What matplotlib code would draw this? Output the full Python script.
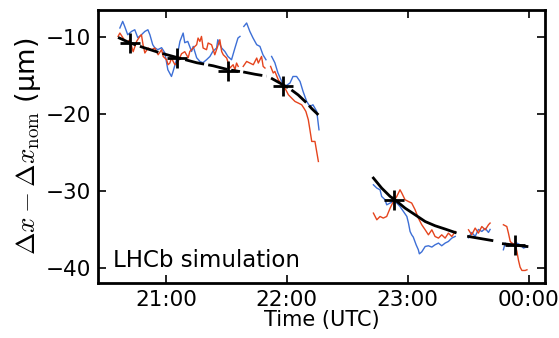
import numpy as np
import matplotlib
matplotlib.use("Agg")
import matplotlib.pyplot as plt

nan = np.nan

# time in minutes after 20:00 UTC, values in micrometres
blue_t = [37.2, 38.6, 39.6, 41.1, 43.0, 44.6, 46.1, 47.9, 49.6, 51.1, 52.1, 53.5, 54.5, 56.0,
          57.9, 59.5, 61.0, 62.8, 63.6, 65.3, 67.0, 68.6, 69.4, 70.9, 72.8, 73.6, 75.3, 76.9,
          78.4, 80.2, 81.9, 83.3, 85.2, 85.8, 87.7, 89.3, 90.8, 92.6, 94.3, 95.8, 96.8, nan,
          98.7, 100.1, 101.7, 103.2, 105.1, 106.7, 108.2, 109.7, nan,
          112.5, 114.1, 115.6, 117.5, 119.1, 121.6, 123.1, 124.9, 126.6, 128.1, 129.9, 131.5,
          133.0, 134.9, 136.0, nan,
          163.0, 164.7, 166.3, 167.1, 168.8, 169.6, 171.3, 172.9, 174.6, 176.2, 177.9, 179.6,
          180.4, 181.2, 182.0, 182.8, 184.2, 185.3, 185.8, 187.0, 188.7, 190.3, 192.0, 193.6,
          195.3, 196.9, 198.6, 200.2, 201.9, 203.6, nan,
          210.2, 211.8, 213.5, 215.1, 216.8, 218.5, 220.1, 220.9, nan,
          227.5, 228.4, 230.0, 231.7, 233.4, 234.2, 235.8, 237.5, 239.2]
blue_v = [-8.77, -7.91, -8.57, -9.65, -9.22, -9.00, -10.04, -9.65, -9.22, -9.00, -9.65, -10.95,
          -11.34, -11.60, -11.34, -12.00, -14.21, -15.09, -14.43, -12.91, -10.52, -9.43, -10.69,
          -10.52, -11.83, -11.17, -12.65, -13.13, -13.30, -12.91, -12.48, -11.83, -11.38, -10.30,
          -11.38, -11.83, -12.48, -12.91, -11.38, -10.08, -9.87, nan,
          -8.57, -8.12, -9.22, -10.04, -10.95, -11.17, -12.26, -12.91, nan,
          -12.48, -13.30, -14.60, -15.74, -16.39, -15.95, -15.09, -15.09, -15.74, -17.04, -18.35,
          -19.00, -18.78, -19.65, -22.04, nan,
          -29.21, -29.64, -29.86, -30.73, -31.16, -31.82, -31.59, -31.39, -31.59, -32.04, -32.69,
          -33.34, -34.20, -35.30, -35.73, -36.03, -37.03, -37.68, -38.21, -37.95, -37.25, -37.16,
          -37.33, -37.03, -36.81, -37.16, -36.81, -36.60, -36.16, -35.94, nan,
          -36.12, -35.42, -35.94, -35.03, -35.29, -34.90, -35.42, -35.03, nan,
          -37.68, -36.81, -37.25, -36.81, -37.25, -36.81, -37.03, -37.46, -37.29]

red_t = [36.3, 37.2, 38.8, 40.5, 42.1, 43.8, 45.5, 47.1, 47.9, 48.7, 49.6, 51.2, 52.9, 54.5,
         56.2, 57.9, 58.7, 60.4, 61.1, 62.0, 62.8, 64.5, 66.1, 67.8, 69.4, 71.1, 71.9, 73.6,
         75.3, 76.0, 76.9, 77.7, 78.5, 80.2, 81.0, 82.7, 84.3, 86.0, 86.8, 87.7, 88.5, 90.2,
         91.8, 93.4, 94.3, 95.1, 95.9, nan,
         98.4, 100.1, 101.7, 103.4, 105.1, 105.9, 107.5, 108.3, 109.2, nan,
         112.0, 113.3, 114.1, 115.8, 117.5, 119.1, 120.8, 122.4, 124.1, 125.7, 127.4, 128.5,
         129.5, 130.7, 131.5, 132.4, 134.0, 135.7, nan,
         163.0, 164.7, 166.3, 167.9, 169.6, 171.3, 172.9, 174.6, 176.2, 177.1, 178.7, 180.4,
         182.0, 183.7, 185.3, 187.0, 188.7, 190.3, 192.0, 193.6, 195.3, 196.9, 198.6, 200.2,
         201.9, 203.6, nan,
         210.2, 211.8, 213.5, 215.1, 216.8, 218.5, 220.1, 220.9, nan,
         227.5, 229.2, 230.0, 230.9, 231.7, 233.4, 234.2, 235.0, 235.8, 236.7, 238.3, 239.2]
red_v = [-9.87, -9.43, -10.08, -10.73, -10.30, -11.86, -10.52, -9.87, -9.65, -10.95, -12.03,
         -11.38, -11.60, -11.38, -12.26, -11.60, -12.48, -12.91, -13.56, -13.34, -12.69, -13.56,
         -13.13, -12.13, -11.86, -12.65, -11.83, -11.38, -10.95, -10.08, -10.52, -9.87, -11.38,
         -11.60, -10.73, -10.95, -12.26, -10.95, -10.30, -11.83, -12.26, -12.69, -13.99, -13.56,
         -14.21, -13.34, -13.78, nan,
         -13.78, -13.13, -13.34, -13.56, -12.69, -13.34, -12.48, -13.78, -13.99, nan,
         -13.78, -14.64, -14.43, -15.52, -16.17, -16.60, -17.47, -17.90, -18.35, -18.55, -18.78,
         -19.21, -19.65, -20.73, -22.04, -23.56, -23.56, -26.17, nan,
         -32.90, -33.77, -33.34, -33.55, -33.34, -32.25, -31.39, -30.73, -29.86, -30.29, -31.16,
         -31.39, -31.59, -32.47, -33.55, -34.42, -35.08, -35.73, -35.08, -35.95, -36.16, -35.73,
         -36.16, -35.51, -35.95, -35.30, nan,
         -35.08, -35.73, -34.85, -35.51, -34.65, -35.08, -34.42, -34.20, nan,
         -34.42, -34.65, -35.51, -36.60, -36.81, -37.03, -37.90, -39.07, -39.95, -40.38, -40.38,
         -40.29]

# fit curves
fit1_t = [36.3, 42.1, 48.7, 57.0, 65.3, 75.3, 83.5, 90.9, 96.8, nan, 98.4, 104.2, 110.0, nan,
          112.2, 118.3, 121.6, 125.7, 129.9, 132.5, 135.7]
fit1_v = [-10.0, -10.7, -11.3, -12.0, -12.6, -13.3, -13.7, -14.2, -14.45, nan, -14.5, -14.8,
          -15.05, nan, -15.3, -16.2, -16.7, -17.5, -18.55, -19.3, -20.1]
fit2_t = [163.0, 167.1, 171.3, 173.7, 178.7, 183.7, 188.7, 193.6, 198.6, 203.6, nan,
          210.2, 221.8, nan, 227.5, 239.2]
fit2_v = [-28.33, -29.64, -30.73, -31.16, -32.25, -33.12, -34.00, -34.55, -34.98, -35.43, nan,
          -35.95, -36.47, nan, -36.9, -37.25]

# measurement points (+ markers)
pts_t = [42.1, 65.6, 90.9, 118.0, 173.3, 233.4]
pts_v = [-10.73, -12.69, -14.43, -16.30, -31.16, -37.12]

xticks = [60, 120, 180, 240]
xticklabels = ["21:00", "22:00", "23:00", "00:00"]
yticks = [-10, -20, -30, -40]

plt.rcParams['mathtext.fontset'] = 'cm'
plt.rcParams['font.family'] = ['DejaVu Sans']

fig = plt.figure(figsize=(5.59, 3.38), dpi=100)
ax = fig.add_axes([0.1755, 0.163, 0.800, 0.808])

ax.plot(blue_t, blue_v, color='#3d6fd6', lw=1.0)
ax.plot(red_t, red_v, color='#e5441d', lw=1.0)
ax.plot(fit1_t, fit1_v, color='black', lw=2.0, linestyle=(0, (7, 1.5)))
ax.plot(fit2_t, fit2_v, color='black', lw=2.0)
ax.plot(pts_t, pts_v, linestyle='none', marker='+', color='black', markersize=15, mew=2.0)

ax.set_xlim(26.4, 248.3)
ax.set_ylim(-42.0, -6.4)
ax.set_xticks(xticks)
ax.set_xticklabels(xticklabels)
ax.set_yticks(yticks)
ax.minorticks_off()
ax.tick_params(direction='in', top=True, right=True, length=6, width=1.2, labelsize=15.5, pad=5)
for s in ax.spines.values():
    s.set_linewidth(2.0)

ax.set_xlabel("Time (UTC)", fontsize=15, labelpad=0)
ax.set_ylabel(r"$\Delta x - \Delta x_{\rm nom}$ (µm)", fontsize=19.5, labelpad=2)
ax.text(0.034, 0.04, "LHCb simulation", transform=ax.transAxes, fontsize=16.5,
        ha='left', va='bottom')

fig.savefig("out.png", dpi=100)
